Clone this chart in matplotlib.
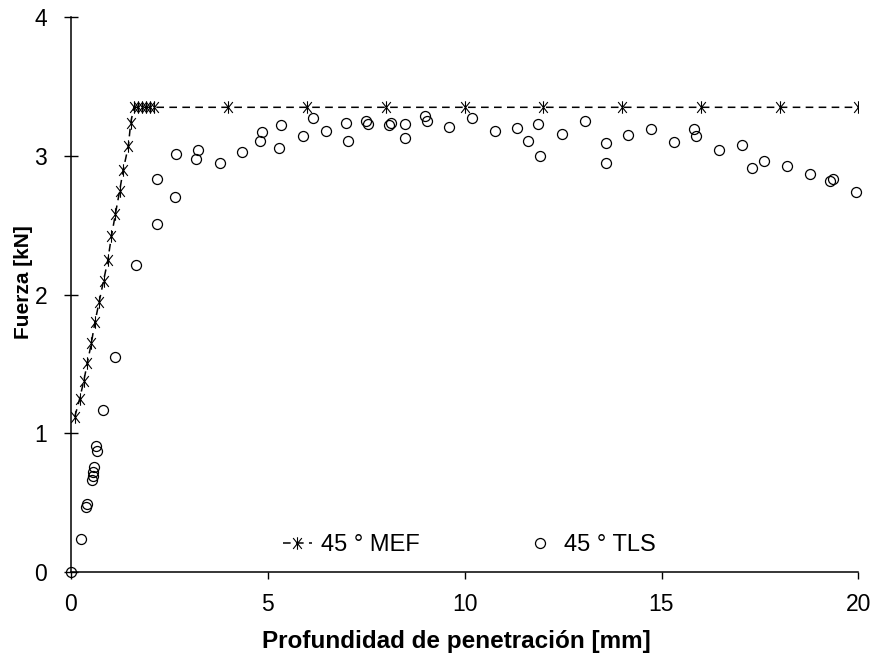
import matplotlib.pyplot as plt
from matplotlib.path import Path

# --- data ---
mef_x = [0.10, 0.22, 0.33, 0.42, 0.52, 0.61, 0.72, 0.83, 0.94, 1.03, 1.13,
         1.24, 1.33, 1.46, 1.52, 1.60, 1.70, 1.80, 1.90, 2.00, 2.10,
         4, 6, 8, 10, 12, 14, 16, 18, 20]
mef_y = [1.12, 1.245, 1.38, 1.51, 1.65, 1.80, 1.95, 2.10, 2.25, 2.42, 2.58,
         2.75, 2.90, 3.07, 3.24, 3.35, 3.35, 3.35, 3.35, 3.35, 3.35,
         3.35, 3.35, 3.35, 3.35, 3.35, 3.35, 3.35, 3.35, 3.35]

tls_x = [0.0, 0.25, 0.38, 0.40, 0.53, 0.55, 0.57, 0.58, 0.65, 0.67, 0.82,
         1.12, 1.65, 2.18, 2.19, 2.64, 2.66, 3.19, 3.22, 3.79, 4.35,
         4.80, 4.85, 5.29, 5.34, 5.90, 6.16, 6.48, 6.99, 7.05, 7.50,
         7.55, 8.07, 8.12, 8.48, 8.49, 9.00, 9.04, 9.61, 10.19, 10.77,
         11.33, 11.60, 11.86, 11.92, 12.48, 13.06, 13.59, 13.59, 14.16,
         14.74, 15.31, 15.83, 15.88, 16.46, 17.04, 17.30, 17.61, 18.19,
         18.76, 19.29, 19.36, 19.93]
tls_y = [0.0, 0.24, 0.47, 0.49, 0.66, 0.69, 0.72, 0.76, 0.91, 0.87, 1.17,
         1.55, 2.21, 2.51, 2.83, 2.70, 3.01, 2.98, 3.04, 2.95, 3.03,
         3.11, 3.17, 3.06, 3.22, 3.14, 3.27, 3.18, 3.24, 3.11, 3.25,
         3.23, 3.22, 3.24, 3.13, 3.23, 3.29, 3.25, 3.21, 3.27, 3.18,
         3.20, 3.11, 3.23, 3.00, 3.16, 3.25, 3.09, 2.95, 3.15,
         3.19, 3.10, 3.19, 3.14, 3.04, 3.08, 2.91, 2.96, 2.93,
         2.87, 2.82, 2.83, 2.74]

x_ticks = [0, 5, 10, 15, 20]
y_ticks = [0, 1, 2, 3, 4]

plt.rcParams['font.family'] = ['Liberation Sans', 'DejaVu Sans']

# star marker: an X with a vertical stroke through it
star = Path([(-0.8, -1), (0.8, 1), (-0.8, 1), (0.8, -1), (0, -1.15), (0, 1.15)],
            [Path.MOVETO, Path.LINETO, Path.MOVETO, Path.LINETO, Path.MOVETO, Path.LINETO])

fig = plt.figure(figsize=(8.75, 6.59), dpi=100)
ax = fig.add_axes([0.081, 0.132, 0.900, 0.842])

ax.plot(mef_x, mef_y, color='black', lw=1.1, dashes=(5, 3.5),
        marker=star, markersize=9, markeredgewidth=0.8,
        label='45 ° MEF')
ax.plot(tls_x, tls_y, linestyle='none', marker='o', markersize=7.2,
        markerfacecolor='none', markeredgecolor='black', markeredgewidth=0.9,
        label='45 ° TLS', clip_on=False)

ax.set_xlim(0, 20)
ax.set_ylim(0, 4)
ax.set_xticks(x_ticks)
ax.set_yticks(y_ticks)
for side in ['top', 'right']:
    ax.spines[side].set_visible(False)
ax.spines['left'].set_linewidth(1.1)
ax.spines['bottom'].set_linewidth(1.1)
ax.tick_params(axis='y', direction='inout', length=10, width=1.0, labelsize=16.5, pad=12)
ax.tick_params(axis='x', direction='out', length=5, width=1.0, labelsize=16.5, pad=10)

ax.set_xlabel('Profundidad de penetración [mm]', fontsize=17.5, fontweight='bold')
ax.xaxis.set_label_coords(0.49, -0.105)
ax.set_ylabel('Fuerza [kN]', fontsize=15, fontweight='bold')
ax.yaxis.set_label_coords(-0.048, 0.522)

ax.legend(loc='center', bbox_to_anchor=(0.506, 0.049), ncol=2, frameon=False,
          fontsize=17, handlelength=1.2, handletextpad=0.4, columnspacing=4.5)

fig.savefig('out.png', dpi=100)
